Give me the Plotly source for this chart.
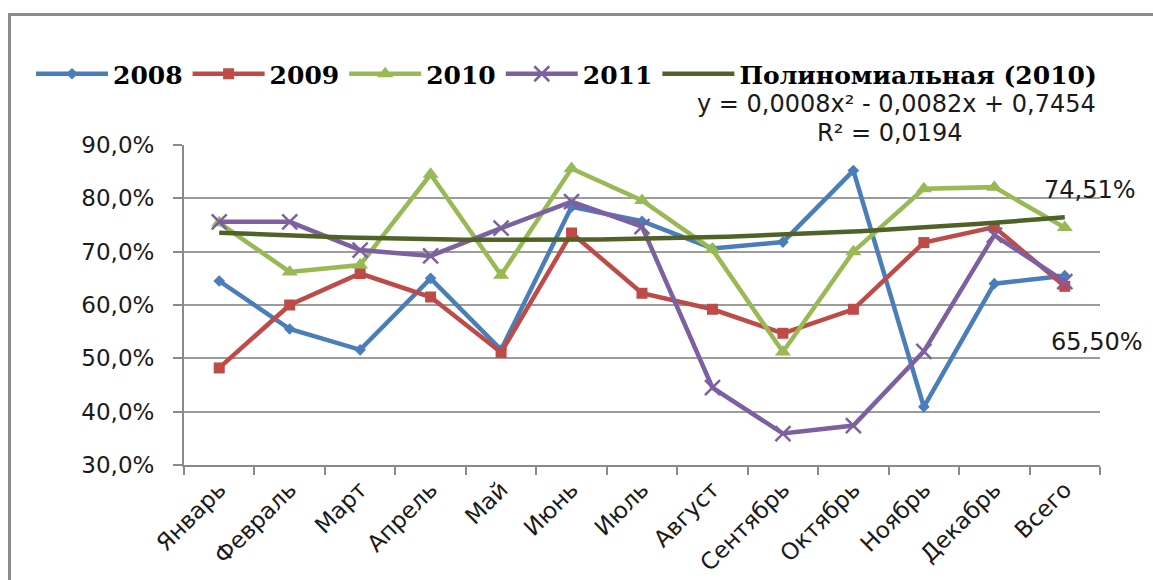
import numpy as np
import plotly.graph_objects as go

months = ["Январь", "Февраль", "Март", "Апрель", "Май", "Июнь", "Июль",
          "Август", "Сентябрь", "Октябрь", "Ноябрь", "Декабрь", "Всего"]

y2008 = [64.5, 55.5, 51.6, 65.0, 51.6, 78.4, 75.7, 70.6, 71.8, 85.2, 40.9, 64.0, 65.50]
y2009 = [48.2, 60.0, 65.9, 61.5, 51.1, 73.5, 62.2, 59.2, 54.7, 59.2, 71.7, 74.6, 63.5]
y2010 = [75.4, 66.2, 67.5, 84.5, 65.6, 85.6, 79.6, 70.4, 51.2, 70.0, 81.8, 82.1, 74.51]
y2011 = [75.6, 75.6, 70.3, 69.2, 74.4, 79.4, 74.7, 44.5, 35.9, 37.4, 51.3, 73.1, 64.4]

series_names = ["2008", "2009", "2010", "2011"]
trend_name = "Полиномиальная (2010)"
equation_text = "y = 0,0008x² - 0,0082x + 0,7454"
r2_text = "R² = 0,0194"

y_ticks = [30, 40, 50, 60, 70, 80, 90]
y_ticktext = [f"{v:.1f}%".replace(".", ",") for v in y_ticks]

W, H = 1153, 580
L, R, T, B = 184, 53, 145, 115
PW, PH = W - L - R, H - T - B


def px(x):
    return (x - L) / PW


def py(y):
    return (H - B - y) / PH


colors = ["#4A7EBB", "#BE4B48", "#98B954", "#7D60A0"]
symbols = ["diamond", "square", "triangle-up", "x-thin"]
msizes = [9, 11, 14, 15]

fig = go.Figure()
for name, vals, c, s, ms in zip(series_names, [y2008, y2009, y2010, y2011], colors, symbols, msizes):
    marker = dict(symbol=s, size=ms, color=c)
    if s == "x-thin":
        marker["line"] = dict(color=c, width=2.5)
    fig.add_trace(go.Scatter(x=months, y=vals, name=name, mode="lines+markers",
                             line=dict(color=c, width=4.5), marker=marker))

# polynomial (order 2) trendline of the 2010 series
xi = np.arange(1, len(months) + 1)
coef = np.polyfit(xi, y2010, 2)
xs = np.linspace(1, len(months), 121)
ys = np.polyval(coef, xs)
fig.add_trace(go.Scatter(x=xs - 1, y=ys, name=trend_name, mode="lines",
                         line=dict(color="#4F6228", width=4.5), xaxis="x2"))

fig.update_layout(
    width=W, height=H,
    margin=dict(l=L, r=R, t=T, b=B, autoexpand=False),
    paper_bgcolor="white", plot_bgcolor="white",
    showlegend=True,
    legend=dict(orientation="h", x=px(31), y=py(74), xanchor="left", yanchor="middle",
                font=dict(family="DejaVu Serif", size=25, color="black", weight="bold"),
                itemwidth=72, tracegroupgap=0, bgcolor="rgba(0,0,0,0)", borderwidth=0),
    xaxis=dict(type="category", categoryorder="array", categoryarray=months,
               range=[-0.5, len(months) - 0.5], automargin=False,
               showgrid=False, showline=True, linecolor="#8a8a8a", linewidth=2,
               ticks="outside", tickson="boundaries", ticklen=8, tickcolor="#8a8a8a", tickwidth=2,
               tickangle=-45, tickfont=dict(family="DejaVu Sans", size=23, color="#1a1a1a")),
    xaxis2=dict(overlaying="x", range=[-0.5, len(months) - 0.5], visible=False),
    yaxis=dict(range=[30, 90], tickvals=y_ticks, ticktext=y_ticktext, automargin=False,
               showgrid=True, gridcolor="#9c9c9c", gridwidth=1.5,
               showline=True, linecolor="#8a8a8a", linewidth=2,
               ticks="outside", ticklen=9, tickcolor="#8a8a8a", tickwidth=2,
               ticklabelstandoff=14, zeroline=False,
               tickfont=dict(family="DejaVu Sans", size=23, color="#1a1a1a")),
)

fig.add_annotation(text=equation_text, xref="paper", yref="paper", x=px(896), y=py(104),
                   showarrow=False, xanchor="center", yanchor="middle",
                   font=dict(family="DejaVu Sans", size=24, color="#1a1a1a"))
fig.add_annotation(text=r2_text, xref="paper", yref="paper", x=px(890), y=py(133),
                   showarrow=False, xanchor="center", yanchor="middle",
                   font=dict(family="DejaVu Sans", size=24, color="#1a1a1a"))

lab_font = dict(family="DejaVu Sans", size=24, color="#1a1a1a")
fig.add_annotation(text=f"{y2010[-1]:.2f}%".replace(".", ","), x=months[-1], y=y2010[-1],
                   showarrow=False, xshift=25, yshift=38, font=lab_font)
fig.add_annotation(text=f"{y2008[-1]:.2f}%".replace(".", ","), x=months[-1], y=y2008[-1],
                   showarrow=False, xshift=32, yshift=-66, font=lab_font)

# chart-area frame (only its top and left edges fall inside the picture)
fig.add_shape(type="rect", xref="paper", yref="paper", layer="below",
              x0=px(9.5), x1=px(1400), y0=py(14.5), y1=py(800),
              line=dict(color="#8c8c8c", width=3), fillcolor="rgba(0,0,0,0)")

fig.write_html("out.html", config={"displayModeBar": False},
               post_script="document.body.style.margin='0';document.documentElement.style.overflow='hidden';document.body.style.overflow='hidden';")
